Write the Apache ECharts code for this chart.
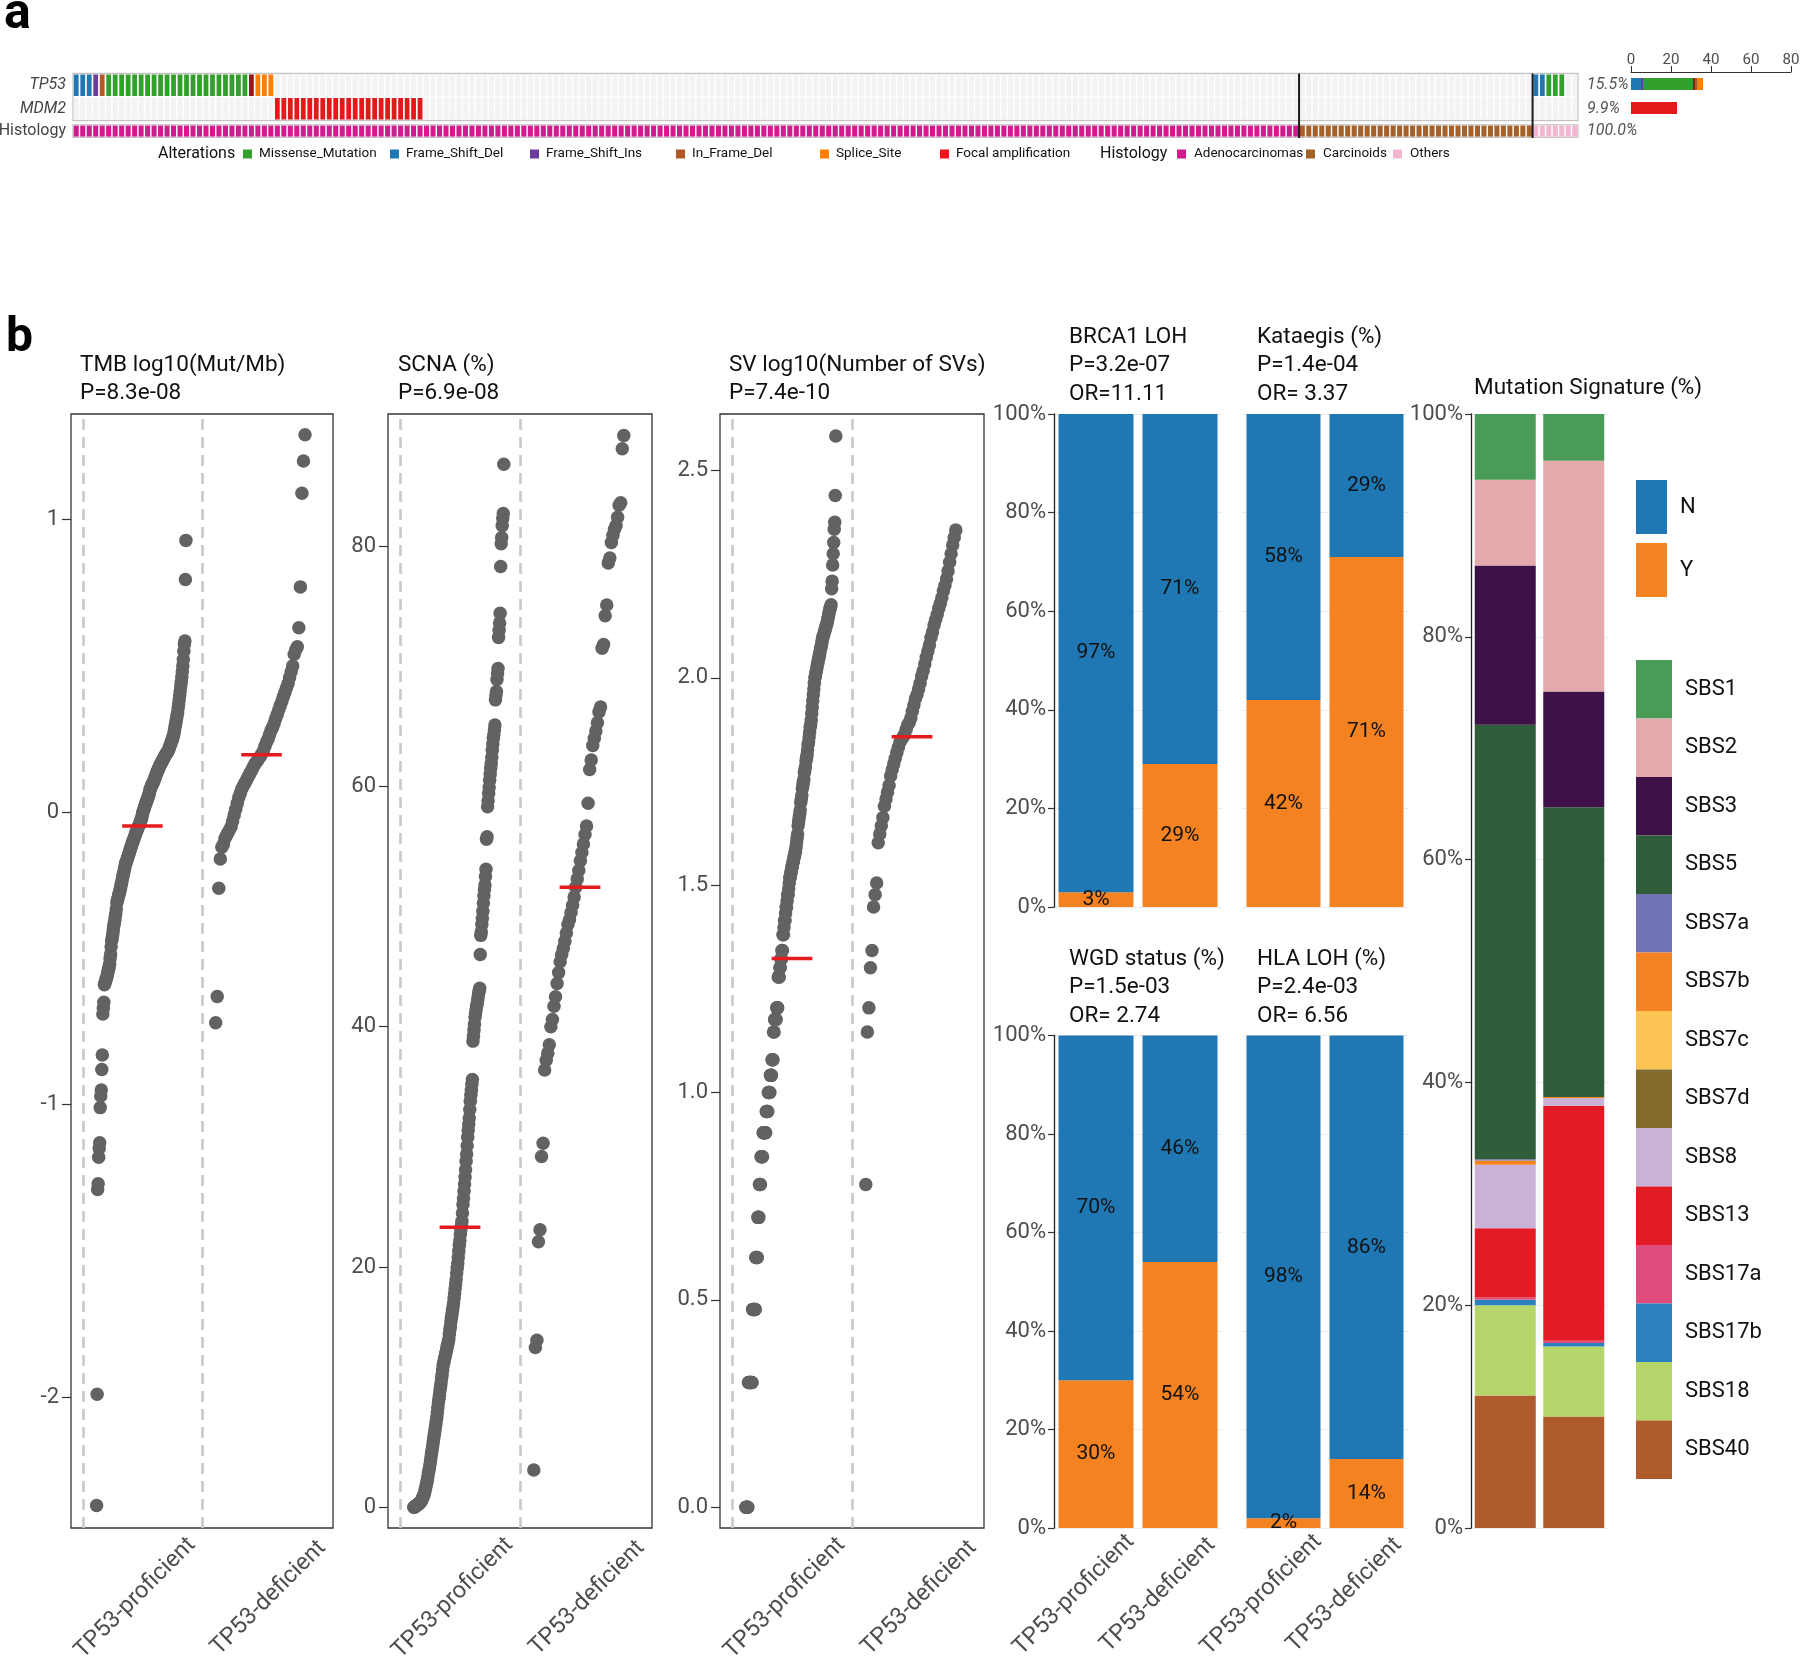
<!DOCTYPE html>
<html><head><meta charset="utf-8">
<script src="https://cdn.jsdelivr.net/npm/echarts@6/dist/echarts.min.js"></script>
<style>html,body{margin:0;padding:0;background:#fff}#c{width:1800px;height:1656px}</style>
</head><body><div id="c"></div>
<script>
// ================= DATA =================
const sampleCount = 232;
const histologyNames = ['Adenocarcinomas', 'Carcinoids', 'Others'];
const histologyCounts = [189, 36, 7];
const tp53AltSamples = [0,1,2,3,4,5,6,7,8,9,10,11,12,13,14,15,16,17,18,19,20,21,22,23,24,25,26,27,28,29,30,225,226,227,228,229];
const tp53AltCodes = ['FSD','FSD','FSD','FSI','IFD','MIS','MIS','MIS','MIS','MIS','MIS','MIS','MIS','MIS','MIS','MIS','MIS','MIS','MIS','MIS','MIS','MIS','MIS','MIS','MIS','MIS','MIS','MH','SPL','SPL','SPL','FSD','FSD','MIS','MIS','MIS'];
const mdm2AmpSamples = [31,32,33,34,35,36,37,38,39,40,41,42,43,44,45,46,47,48,49,50,51,52,53];
const countAxisTicks = [0, 20, 40, 60, 80];

const groupLabels = ['TP53-proficient', 'TP53-deficient'];

const tmbProficient = [-2.37,-1.99,-1.29,-1.27,-1.18,-1.15,-1.13,-1.01,-0.97,-0.95,-0.88,-0.83,-0.69,-0.67,-0.65,-0.59,
-0.585,-0.58,-0.572,-0.568,-0.56,-0.553,-0.545,-0.537,-0.53,-0.52,-0.50,-0.485,-0.46,-0.44,
-0.43,-0.418,-0.405,-0.39,-0.38,-0.37,-0.357,-0.345,-0.33,-0.31,-0.302,-0.296,-0.288,-0.281,-0.276,-0.268,-0.26,-0.25,
-0.243,-0.232,-0.224,-0.216,-0.208,-0.2,-0.192,-0.181,-0.176,-0.171,-0.164,-0.16,-0.155,-0.149,-0.144,-0.139,-0.131,-0.126,-0.12,
-0.116,-0.111,-0.104,-0.1,-0.096,-0.09,-0.084,-0.081,-0.075,-0.069,-0.066,-0.061,-0.055,-0.05,-0.048,-0.044,-0.04,-0.034,-0.029,-0.025,-0.019,-0.011,0.0,
0.004,0.011,0.014,0.021,0.026,0.03,0.036,0.04,0.046,0.05,0.056,0.061,0.069,0.078,
0.081,0.087,0.09,0.095,0.098,0.101,0.106,0.11,0.116,0.12,0.124,0.131,0.134,0.14,0.144,0.148,0.151,0.156,0.16,
0.163,0.167,0.17,0.172,0.176,0.181,0.183,0.186,0.19,0.194,0.196,0.199,0.203,0.205,0.207,0.21,
0.216,0.219,0.226,0.23,0.234,0.241,0.245,0.25,0.256,0.262,0.27,0.281,0.29,
0.3,0.311,0.32,0.331,0.34,0.356,0.37,0.384,0.4,0.414,0.431,0.444,0.461,0.48,0.5,0.522,0.55,0.575,
0.585,0.795,0.929];
const tmbDeficient = [-0.72,-0.63,-0.26,-0.16,-0.12,-0.11,-0.09,-0.08,-0.07,-0.06,-0.05,-0.03,-0.01,0.01,0.03,0.05,0.065,0.08,0.09,0.1,
0.11,0.12,0.13,0.14,0.15,0.16,0.17,0.175,0.185,0.19,0.2,0.21,0.225,0.24,0.25,0.265,0.28,0.29,0.305,0.32,
0.335,0.35,0.365,0.38,0.395,0.41,0.425,0.44,0.46,0.48,0.5,0.54,0.555,0.565,0.63,0.77,1.09,1.2,1.29];
const tmbMedians = [-0.047, 0.196];
const tmbTicks = [-2, -1, 0, 1];

const scnaProficient = [0.0,0.0,0.05,0.1,0.1,0.15,0.2,0.2,0.25,0.3,0.3,0.35,0.4,0.45,0.5,
0.6,0.7,0.8,0.9,1.0,1.1,1.3,1.5,1.7,1.9,2.1,2.3,2.6,2.9,3.1,
3.3,3.6,3.9,4.2,4.5,4.8,5.1,5.4,5.7,6.0,6.3,6.6,6.9,7.2,7.5,7.9,8.3,8.7,
9.0,9.3,9.7,10.0,10.3,10.7,11.0,11.4,11.8,12.0,12.2,12.4,12.6,12.8,13.0,13.2,13.4,13.6,13.8,14.0,
14.4,14.8,15.1,15.5,15.8,16.1,16.4,16.7,17.0,17.4,17.8,18.2,18.6,19.0,19.5,19.9,20.3,20.8,
21.3,21.8,22.2,22.7,23.1,23.5,23.8,24.5,25.2,25.7,26.3,26.9,27.5,28.1,
28.8,29.4,30.1,30.8,31.4,31.9,32.4,33.1,33.8,34.3,34.7,35.2,35.6,
38.8,39.2,39.7,40.2,40.8,41.1,41.4,41.7,41.9,42.2,42.5,42.8,43.0,43.2,
46.0,47.6,47.9,48.5,49.0,49.6,50.3,50.9,51.4,51.8,52.5,53.1,55.6,55.8,
58.3,58.8,59.4,59.9,60.5,61.0,61.5,61.9,62.4,63.0,63.5,64.0,64.3,64.7,65.1,67.2,67.6,67.9,
68.9,69.4,69.8,72.4,73.0,73.6,74.4,78.3,80.2,80.7,81.7,82.3,82.7,86.8];
const scnaDeficient = [3.1,13.3,13.9,22.1,23.1,29.2,30.3,36.4,37.2,37.8,38.5,40.0,40.6,41.7,42.5,43.6,44.5,45.4,46.0,46.5,
47.1,47.8,48.5,48.9,49.5,50.1,50.8,51.6,52.3,53.0,53.8,54.5,55.2,56.0,56.7,58.6,61.4,62.2,63.4,64.0,
64.6,65.3,66.2,66.6,71.5,71.8,74.2,75.1,78.6,79.0,80.3,80.9,81.4,81.7,82.4,83.4,83.6,88.1,89.2];
const scnaMedians = [23.3, 51.6];
const scnaTicks = [0, 20, 40, 60, 80];

const svCountProficient = [1,1,1,1,1,2,2,2,2,2,2,2,2,3,3,3,3,3,3,4,4,4,4,5,5,5,6,6,6,7,7,7,7,8,8,8,8,8,8,9,9,9,9,
10,10,10,10,11,11,11,12,12,12,14,14,15,15,15,15,16,16,16,19,19,19,20,20,21,21,22,22,
24,24,25,26,26,27,28,28,29,30,30,31,32,33,33,34,34,35,35,36,36,37,37,38,
38,39,40,41,42,44,45,46,47,48,50,51,52,54,55,56,57,59,60,61,63,64,
65,67,69,70,72,74,76,77,79,82,85,88,91,94,97,100,101,103,104,106,108,109,111,
112,114,116,118,119,121,123,125,126,127,129,130,131,133,134,135,137,139,141,143,145,147,148,
150,164,171,187,199,212,228,237,275,383];
const svCountDeficient = [6,14,16,20,22,28,30,32,40,42,44,46,49,51,53,55,58,60,62,64,66,68,70,71,72,73,75,77,78,80,
83,86,89,91,94,97,101,104,108,112,116,120,125,129,134,138,142,147,151,156,162,167,173,181,190,199,209,218,227];
const svMedians = [1.323, 1.858];
const svTicks = [0, 0.5, 1, 1.5, 2, 2.5];

const brca1N = [97, 71], brca1Y = [3, 29];
const kataegisN = [58, 29], kataegisY = [42, 71];
const wgdN = [70, 46], wgdY = [30, 54];
const hlaN = [98, 86], hlaY = [2, 14];
const pctTicks = [0, 20, 40, 60, 80, 100];

const signatureNames = ['SBS1','SBS2','SBS3','SBS5','SBS7a','SBS7b','SBS7c','SBS7d','SBS8','SBS13','SBS17a','SBS17b','SBS18','SBS40'];
const signatureProficient = [5.9, 7.7, 14.3, 39.0, 0.1, 0.4, 0, 0, 5.7, 6.2, 0.2, 0.5, 8.1, 11.9];
const signatureDeficient = [4.2, 20.7, 10.4, 26.0, 0, 0.1, 0, 0, 0.7, 21.1, 0.2, 0.3, 6.3, 10.0];

// ================= STYLE =================
const FONT = 'Roboto';
const altColors = {FSD:'#1f78b4', FSI:'#6a3d9a', IFD:'#b15928', MIS:'#33a02c', MH:'#8e1a1e', SPL:'#ff7f00', AMP:'#e31a1c'};
const altNames = {MIS:'Missense_Mutation', FSD:'Frame_Shift_Del', FSI:'Frame_Shift_Ins', IFD:'In_Frame_Del', SPL:'Splice_Site', AMP:'Focal amplification', MH:'Multi_Hit'};
const histColors = ['#d3198e', '#a5612a', '#f2b6d3'];
const sigColors = ['#4a9b57','#e3a9ad','#3e1249','#2f5d39','#7173b4','#f58220','#fdc453','#826b2c','#cab2d6','#e31b25','#e04c7c','#2b80be','#b6d66c','#b05b2b'];
const colN = '#1f78b4', colY = '#f58220';
const dotColor = '#626262';
const axisText = '#4d4d4d';

// ================= BUILD =================
const codeList = ['none','FSD','FSI','IFD','MIS','MH','SPL','AMP'];
const tp53BySample = new Array(sampleCount).fill(0);
tp53AltSamples.forEach((s, k) => { tp53BySample[s] = codeList.indexOf(tp53AltCodes[k]); });
const mdm2BySample = new Array(sampleCount).fill(0);
mdm2AmpSamples.forEach(s => { mdm2BySample[s] = codeList.indexOf('AMP'); });
const oncoData = [];
for (let i = 0; i < sampleCount; i++) { oncoData.push([i, 1, tp53BySample[i]]); oncoData.push([i, 0, mdm2BySample[i]]); }
const histData = [];
const histBoundaries = [];
{ let i = 0; histologyCounts.forEach((n, h) => { for (let k = 0; k < n; k++) histData.push([i++, 0, h]); if (i < sampleCount) histBoundaries.push([i]); }); }
const tp53Pct = (new Set(tp53AltSamples).size / sampleCount * 100).toFixed(1) + '%';
const mdm2Pct = (new Set(mdm2AmpSamples).size / sampleCount * 100).toFixed(1) + '%';
const histPct = (histologyCounts.reduce((a, b) => a + b, 0) / sampleCount * 100).toFixed(1) + '%';
const countOf = (codes, c) => codes.filter(x => x === c).length;
const barOrder = ['FSD','FSI','MIS','MH','IFD','SPL','AMP'];

function dotData(values, center) {
  const s = values.slice().sort((a, b) => a - b);
  const n = s.length;
  return s.map((v, i) => [center - 0.385 + 0.75 * i / (n - 1), v]);
}
const svLogProf = svCountProficient.map(c => Math.log10(c));
const svLogDef = svCountDeficient.map(c => Math.log10(c));

// ---------- layout ----------
const grids = [
  {left: 73, top: 73.5, width: 1505, height: 47, show: true, borderColor: '#c4c4c4', borderWidth: 1.3, backgroundColor: '#fff'},
  {left: 73, top: 124.8, width: 1505, height: 12.6, show: true, borderColor: '#c4c4c4', borderWidth: 1.3},
  {left: 1631, top: 72, width: 160, height: 48},
  {left: 71, top: 414, width: 262, height: 1114, show: true, borderColor: '#333', borderWidth: 1.3},
  {left: 388, top: 414, width: 264, height: 1114, show: true, borderColor: '#333', borderWidth: 1.3},
  {left: 720, top: 414, width: 264, height: 1114, show: true, borderColor: '#333', borderWidth: 1.3},
  {left: 1054, top: 414, width: 168, height: 493},
  {left: 1242, top: 414, width: 166, height: 493},
  {left: 1054, top: 1035.5, width: 168, height: 492.5},
  {left: 1242, top: 1035.5, width: 166, height: 492.5},
  {left: 1471, top: 414, width: 137, height: 1114}
].map(g => Object.assign({outerBoundsMode: 'none', containLabel: false}, g));

const hidden = {show: false};
const xAxes = [
  {gridIndex: 0, type: 'value', min: -0.5, max: sampleCount - 0.5, show: false},
  {gridIndex: 1, type: 'value', min: -0.5, max: sampleCount - 0.5, show: false},
  {gridIndex: 2, type: 'value', position: 'top', min: 0, max: 80, interval: 20,
    axisLine: {show: true, lineStyle: {color: '#333', width: 1}}, axisTick: {show: true, length: 6, lineStyle: {color: '#333'}},
    axisLabel: {fontSize: 15, color: axisText, margin: 4, fontFamily: FONT}, splitLine: hidden}
];
function dotX(gi, showLabel) {
  return {gridIndex: gi, type: 'value', min: 0.4, max: 2.6, axisLine: hidden, splitLine: hidden, axisTick: hidden,
    axisLabel: {show: showLabel, customValues: [1, 2.12], formatter: v => groupLabels[Math.round(v) - 1], rotate: 45,
      align: 'center', verticalAlign: 'middle', margin: 63, padding: [0, 20, 0, 0], fontSize: 23.5, color: axisText, fontFamily: FONT}};
}
function barX(gi, showLabel) {
  return {gridIndex: gi, type: 'category', data: groupLabels, axisLine: hidden, axisTick: hidden, splitLine: hidden,
    axisLabel: {show: showLabel, interval: 0, rotate: 45, align: 'center', verticalAlign: 'middle', margin: 45, padding: [0, 62, 0, 0],
      fontSize: 23.5, color: axisText, fontFamily: FONT}};
}
xAxes.push(dotX(3, true), dotX(4, true), dotX(5, true), barX(6, false), barX(7, false), barX(8, true), barX(9, true), barX(10, false));

const rowCats = ['MDM2', 'TP53'];
const yAxes = [
  {gridIndex: 0, type: 'category', data: rowCats, position: 'left', axisLine: hidden, axisTick: hidden,
    axisLabel: {fontSize: 16, fontStyle: 'italic', color: '#444', margin: 7, fontFamily: FONT}},
  {gridIndex: 0, type: 'category', data: rowCats, position: 'right', axisLine: hidden, axisTick: hidden,
    axisLabel: {fontSize: 16, fontStyle: 'italic', color: '#555', margin: 9, fontFamily: FONT, formatter: v => v === 'TP53' ? tp53Pct : mdm2Pct}},
  {gridIndex: 1, type: 'category', data: ['Histology'], position: 'left', axisLine: hidden, axisTick: hidden,
    axisLabel: {fontSize: 16, color: '#444', margin: 7, fontFamily: FONT}},
  {gridIndex: 1, type: 'category', data: ['Histology'], position: 'right', axisLine: hidden, axisTick: hidden,
    axisLabel: {fontSize: 16, fontStyle: 'italic', color: '#555', margin: 9, fontFamily: FONT, formatter: () => histPct}},
  {gridIndex: 2, type: 'category', data: rowCats, show: false}
];
function dotY(gi, min, max, ticks, fmt) {
  return {gridIndex: gi, type: 'value', min: min, max: max, axisLine: hidden, splitLine: hidden,
    axisTick: {show: true, customValues: ticks, length: 9, lineStyle: {color: '#333', width: 1.2}},
    axisLabel: {customValues: ticks, formatter: fmt, margin: 12, fontSize: 22, color: axisText, fontFamily: FONT}};
}
yAxes.push(dotY(3, -2.447, 1.361, tmbTicks, v => String(v)));
yAxes.push(dotY(4, -1.72, 90.99, scnaTicks, v => String(v)));
yAxes.push(dotY(5, -0.05, 2.636, svTicks, v => v.toFixed(1)));
function pctY(gi, showAxis) {
  return {gridIndex: gi, type: 'value', min: 0, max: 100, interval: 10,
    axisLine: {show: showAxis, lineStyle: {color: '#222', width: 1.3}},
    axisTick: {show: showAxis, customValues: pctTicks, length: 6, lineStyle: {color: '#333', width: 1.2}},
    axisLabel: {show: showAxis, customValues: pctTicks, formatter: '{value}%', margin: 8, fontSize: 22, color: axisText, fontFamily: FONT},
    splitLine: {show: true, lineStyle: {color: '#ececec', width: 1}}};
}
yAxes.push(pctY(6, true), pctY(7, false), pctY(8, true), pctY(9, false), pctY(10, true));

// ---------- series ----------
const series = [];
series.push({type: 'custom', xAxisIndex: 0, yAxisIndex: 0, data: oncoData, silent: true,
  renderItem: (params, api) => {
    const i = api.value(0), r = api.value(1), t = api.value(2);
    const c = api.coord([i, r]); const sz = api.size([1, 1]);
    let w, h, fill;
    if (t === 0) { w = sz[0] - 1.3; h = sz[1] - 1; fill = '#f2f3f5'; }
    else { w = sz[0] * 0.74; h = sz[1] - 2; fill = altColors[codeList[t]]; }
    return {type: 'rect', shape: {x: c[0] - w / 2, y: c[1] - h / 2, width: w, height: h}, style: {fill: fill}};
  }});
series.push({type: 'custom', xAxisIndex: 1, yAxisIndex: 2, data: histData, silent: true,
  renderItem: (params, api) => {
    const c = api.coord([api.value(0), 0]); const sz = api.size([1, 1]);
    const w = sz[0] * 0.78, h = sz[1] - 1.6;
    return {type: 'rect', shape: {x: c[0] - w / 2, y: c[1] - h / 2, width: w, height: h}, style: {fill: histColors[api.value(2)]}};
  }});
series.push({type: 'custom', xAxisIndex: 0, yAxisIndex: 0, data: histBoundaries, silent: true, z: 10,
  renderItem: (params, api) => {
    const x = api.coord([api.value(0) - 0.5, 0])[0]; const cs = params.coordSys;
    return {type: 'line', shape: {x1: x, y1: cs.y, x2: x, y2: cs.y + cs.height + 17.5}, style: {stroke: '#1a1a1a', lineWidth: 2}};
  }});
barOrder.forEach(code => {
  series.push({type: 'bar', name: altNames[code], xAxisIndex: 2, yAxisIndex: 4, stack: 'cnt', barWidth: 12, silent: true,
    itemStyle: {color: altColors[code]},
    data: [code === 'AMP' ? mdm2AmpSamples.length : 0, countOf(tp53AltCodes, code)]});
});
function dotSeries(xi, yi, prof, def, medians) {
  series.push({type: 'scatter', xAxisIndex: xi, yAxisIndex: yi, symbolSize: 13.5, silent: true,
    itemStyle: {color: dotColor, opacity: 1}, data: dotData(prof, 1).concat(dotData(def, 2)),
    markLine: {silent: true, symbol: ['none', 'none'], label: {show: false}, animation: false,
      lineStyle: {color: '#c9c9c9', type: [11, 7], width: 2.6}, data: [{xAxis: 0.5}, {xAxis: 1.5}]}});
  series.push({type: 'custom', xAxisIndex: xi, yAxisIndex: yi, z: 6, silent: true, data: medians.map((m, k) => [k + 1, m]),
    renderItem: (params, api) => {
      const c = api.value(0), m = api.value(1);
      const p1 = api.coord([c - 0.17, m]), p2 = api.coord([c + 0.17, m]);
      return {type: 'line', shape: {x1: p1[0], y1: p1[1], x2: p2[0], y2: p2[1]}, style: {stroke: '#e41a1c', lineWidth: 3.5}};
    }});
}
dotSeries(3, 5, tmbProficient, tmbDeficient, tmbMedians);
dotSeries(4, 6, scnaProficient, scnaDeficient, scnaMedians);
dotSeries(5, 7, svLogProf, svLogDef, svMedians);
const pctLabel = {show: true, position: 'inside', formatter: p => p.value + '%', fontSize: 21, color: '#111', fontFamily: FONT, textBorderWidth: 0};
function pctBars(xi, yi, nVals, yVals, key) {
  const bw = (key === 'k' || key === 'h') ? 74 : 75;
  series.push({type: 'bar', name: 'Y', xAxisIndex: xi, yAxisIndex: yi, stack: key, barWidth: bw, data: yVals,
    itemStyle: {color: colY}, label: pctLabel, silent: true});
  series.push({type: 'bar', name: 'N', xAxisIndex: xi, yAxisIndex: yi, stack: key, barWidth: bw, data: nVals,
    itemStyle: {color: colN}, label: pctLabel, silent: true});
}
pctBars(6, 8, brca1N, brca1Y, 'b');
pctBars(7, 9, kataegisN, kataegisY, 'k');
pctBars(8, 10, wgdN, wgdY, 'w');
pctBars(9, 11, hlaN, hlaY, 'h');
for (let k = signatureNames.length - 1; k >= 0; k--) {
  series.push({type: 'bar', name: signatureNames[k], xAxisIndex: 10, yAxisIndex: 12, stack: 'sig', barWidth: 61, silent: true,
    itemStyle: {color: sigColors[k]}, data: [signatureProficient[k], signatureDeficient[k]]});
}

// ---------- text graphics ----------
const graphics = [];
function txt(text, x, y, size, opts) {
  graphics.push(Object.assign({type: 'text', x: x, y: y, silent: true,
    style: Object.assign({text: text, fontSize: size, fontFamily: FONT, fill: '#111', align: 'left', verticalAlign: 'middle'}, opts || {})}));
}
txt('a', 4, 15, 50, {fontWeight: 'bold', fill: '#000'});
txt('b', 6, 339, 48, {fontWeight: 'bold', fill: '#000'});
const panelTitles = [
  [80, 365, ['TMB log10(Mut/Mb)', 'P=8.3e-08']],
  [398, 365, ['SCNA (%)', 'P=6.9e-08']],
  [729, 365, ['SV log10(Number of SVs)', 'P=7.4e-10']],
  [1069, 337, ['BRCA1 LOH', 'P=3.2e-07', 'OR=11.11']],
  [1257, 337, ['Kataegis (%)', 'P=1.4e-04', 'OR= 3.37']],
  [1069, 959, ['WGD status (%)', 'P=1.5e-03', 'OR= 2.74']],
  [1257, 959, ['HLA LOH (%)', 'P=2.4e-03', 'OR= 6.56']],
  [1474, 388, ['Mutation Signature (%)']]
];
panelTitles.forEach(([x, y, lines]) => lines.forEach((l, k) => txt(l, x, y + k * 28.5, 22.5)));
txt('Alterations', 158, 154, 16);
const altLegend = ['MIS', 'FSD', 'FSI', 'IFD', 'SPL', 'AMP'];
const altLegendX = [243, 390, 530, 676, 820, 940];
altLegend.forEach((code, k) => {
  graphics.push({type: 'rect', silent: true, shape: {x: altLegendX[k], y: 149.5, width: 9, height: 9}, style: {fill: altColors[code]}});
  txt(altNames[code], altLegendX[k] + 16, 154, 13.5);
});
txt('Histology', 1100, 154, 16);
const histLegendX = [1177, 1306, 1393];
histologyNames.forEach((nm, k) => {
  graphics.push({type: 'rect', silent: true, shape: {x: histLegendX[k], y: 149.5, width: 9, height: 9}, style: {fill: histColors[k]}});
  txt(nm, histLegendX[k] + 17, 154, 13.5);
});

const option = {
  animation: false,
  backgroundColor: '#fff',
  textStyle: {fontFamily: FONT},
  grid: grids, xAxis: xAxes, yAxis: yAxes, series: series,
  legend: [
    {data: ['N', 'Y'], orient: 'vertical', left: 1636, top: 480, padding: 0, itemWidth: 31, itemHeight: 54, itemGap: 9, icon: 'rect', selectedMode: false,
      textStyle: {fontSize: 22, color: '#111', fontFamily: FONT, padding: [0, 0, 0, 8]}},
    {data: signatureNames, orient: 'vertical', left: 1636, top: 660, padding: 0, itemWidth: 36, itemHeight: 58.5, itemGap: 0, icon: 'rect', selectedMode: false,
      textStyle: {fontSize: 22, color: '#111', fontFamily: FONT, padding: [0, 0, 0, 8]}}
  ],
  graphic: graphics
};
const chart = echarts.init(document.getElementById('c'), null, {renderer: 'canvas', width: 1800, height: 1656});
chart.setOption(option);
</script></body></html>
